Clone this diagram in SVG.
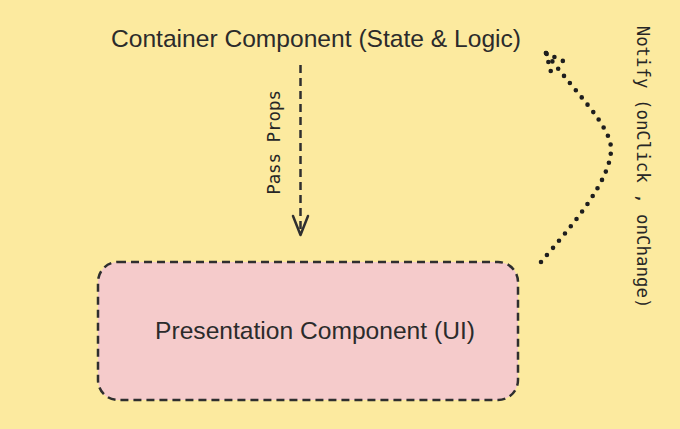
<svg xmlns="http://www.w3.org/2000/svg" width="680" height="429" viewBox="0 0 680 429">
  <style>
    .lbl { font-family: "Liberation Sans", Arial, sans-serif; font-size: 24.6px; fill: #2b2b2b; }
    .mono { font-family: "DejaVu Sans Mono", "Liberation Mono", monospace; font-size: 17.4px; fill: #262626; }
    .dash { stroke: #2f2f2f; stroke-width: 2.5; stroke-dasharray: 8 5; }
    .dots { fill: none; stroke: #1e1e1e; stroke-width: 4.6; stroke-linecap: round; stroke-dasharray: 0 9.3; }
  </style>
  <rect x="0" y="0" width="680" height="429" fill="#fcea9f"/>
  <g id="container">
    <text class="lbl" x="316" y="47" text-anchor="middle">Container Component (State &amp; Logic)</text>
  </g>
  <g id="presentation">
    <rect x="98" y="262" width="420" height="138" rx="20" ry="20" class="dash" style="fill:#f5cbcb"/>
    <text class="lbl" x="315" y="339" text-anchor="middle">Presentation Component (UI)</text>
  </g>
  <g id="connectors">
    <path class="dash" style="fill:none" d="M300.5,65 L300.5,233"/>
    <path fill="none" stroke="#2f2f2f" stroke-width="2.5" stroke-linecap="round" stroke-linejoin="round" d="M293,216 L300.5,235 L308,216"/>
    <text class="mono" transform="translate(280,142.5) rotate(-90)" text-anchor="middle">Pass Props</text>
    <path class="dots" d="M541,262 C570,228 612,180 611,148 C610,125 575,92 546,53"/>
    <path class="dots" d="M546,53 L551,72"/>
    <path class="dots" d="M546,53 L563,61"/>
    <text class="mono" transform="translate(637,167) rotate(90)" text-anchor="middle">Notify (onClick , onChange)</text>
  </g>
</svg>
